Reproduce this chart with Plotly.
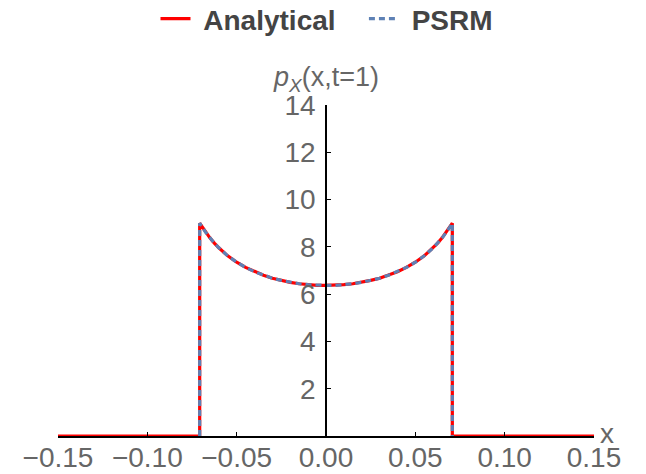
import plotly.graph_objects as go

# values
x_vals = [-0.15, -0.0707, -0.0707, -0.0675, -0.065, -0.0625, -0.06, -0.055, -0.05, -0.045,
          -0.04, -0.035, -0.03, -0.025, -0.02, -0.015, -0.01, -0.005, 0.0,
          0.005, 0.01, 0.015, 0.02, 0.025, 0.03, 0.035, 0.04, 0.045, 0.05, 0.055,
          0.06, 0.0625, 0.065, 0.0675, 0.0707, 0.0707, 0.15]
analytical = [0.0, 0.0, 9.00, 8.63, 8.38, 8.16, 7.96, 7.62, 7.35, 7.13,
              6.95, 6.80, 6.67, 6.58, 6.50, 6.44, 6.40, 6.37, 6.37,
              6.37, 6.40, 6.44, 6.50, 6.58, 6.67, 6.80, 6.95, 7.13, 7.35, 7.62,
              7.96, 8.16, 8.38, 8.63, 9.00, 0.0, 0.0]
x_psrm = [-0.0707, -0.0707, -0.0675, -0.065, -0.0625, -0.06, -0.055, -0.05, -0.045,
          -0.04, -0.035, -0.03, -0.025, -0.02, -0.015, -0.01, -0.005, 0.0,
          0.005, 0.01, 0.015, 0.02, 0.025, 0.03, 0.035, 0.04, 0.045, 0.05, 0.055,
          0.06, 0.0625, 0.065, 0.0675, 0.0707, 0.0707]
psrm = [0.0, 9.00, 8.63, 8.38, 8.16, 7.96, 7.62, 7.35, 7.13,
        6.95, 6.80, 6.67, 6.58, 6.50, 6.44, 6.40, 6.37, 6.37,
        6.37, 6.40, 6.44, 6.50, 6.58, 6.67, 6.80, 6.95, 7.13, 7.35, 7.62,
        7.96, 8.16, 8.38, 8.63, 9.00, 0.0]
x_ticks = [-0.15, -0.10, -0.05, 0.0, 0.05, 0.10, 0.15]
y_ticks = [2, 4, 6, 8, 10, 12, 14]

FONT = "Liberation Sans, Arial, sans-serif"
GRAY = "#666666"
NB = "\u00a0"

fig = go.Figure()
fig.add_trace(go.Scatter(x=x_vals, y=analytical, mode="lines",
                         name=NB + "Analytical" + NB * 3,
                         line=dict(color="#ff0000", width=3.2)))
fig.add_trace(go.Scatter(x=x_psrm, y=psrm, mode="lines", name=NB + "PSRM",
                         line=dict(color="#5e81b5", width=3.2, dash="6px,4px")))

fig.update_layout(
    width=638, height=466,
    margin=dict(l=50, r=52, t=97, b=38, autoexpand=False),
    paper_bgcolor="white", plot_bgcolor="white",
    font=dict(family=FONT, color=GRAY, size=28),
    showlegend=True,
    legend=dict(orientation="h", x=0.5, xanchor="center", xref="container",
                y=1 - 11 / 466, yanchor="middle", yref="container",
                font=dict(family=FONT, size=28, color="#444444", weight="bold"),
                itemwidth=30, tracegroupgap=0, bgcolor="rgba(0,0,0,0)"),
    xaxis=dict(range=[-0.15, 0.15], tickvals=x_ticks, tickformat=".2f",
               showline=True, linecolor="black", linewidth=1.5,
               ticks="inside", ticklen=4, tickcolor="black", tickwidth=1,
               showgrid=False, zeroline=False, ticklabelstandoff=-4, automargin=False,
               tickfont=dict(size=28, color=GRAY, family=FONT)),
    yaxis=dict(range=[0, 14], tickvals=y_ticks, anchor="free", position=0.5,
               showline=True, linecolor="black", linewidth=1.5,
               ticks="inside", ticklen=4, tickcolor="black", tickwidth=1,
               showgrid=False, zeroline=False, ticklabelstandoff=4, automargin=False,
               tickfont=dict(size=28, color=GRAY, family=FONT)),
)

fig.add_annotation(text="<i>p</i><sub><i>X</i></sub>(x,t=1)", x=0, xref="x",
                   y=1 + 26 / 331, yref="paper", yanchor="middle", showarrow=False,
                   font=dict(size=27, color=GRAY, family=FONT))
fig.add_annotation(text="x", x=1, xref="paper", xanchor="left", xshift=4,
                   y=0, yref="y", yanchor="middle", yshift=3, showarrow=False,
                   font=dict(size=28, color=GRAY, family=FONT))

fig.write_html("out.html")
